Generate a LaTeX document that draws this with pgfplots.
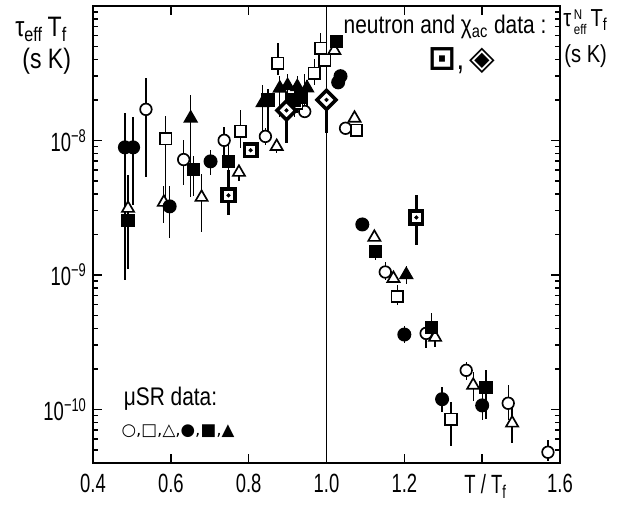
\documentclass[border=0pt]{standalone}
\usepackage{fontspec}
\setmainfont{Liberation Sans}[FakeStretch=0.82]
\newfontfamily\tickfont{Liberation Sans}[FakeStretch=0.7]
\newfontfamily\symfont{DejaVu Sans}
\newfontfamily\symbfont{DejaVu Sans Bold}
\usepackage{pgfplots}
\pgfplotsset{compat=1.18}
\usepackage{pgfplotstable}

% x, y (s K), error bar ends lo/hi
\pgfplotstableread{
x y lo hi
0.536 1.70e-8 5.31e-9 2.89e-8
0.633 7.2e-9 4.63e-9 1.0e-8
0.737 1.0e-8 7.1e-9 1.25e-8
0.843 1.07e-8 9.2e-9 1.23e-8
0.944 1.64e-8 1.5e-8 3.1e-8
1.049 1.23e-8 1.23e-8 1.23e-8
1.151 1.05e-9 9.1e-10 1.24e-9
1.256 3.67e-10 2.84e-10 3.67e-10
1.359 1.95e-10 1.64e-10 2.24e-10
1.467 1.11e-10 8.3e-11 1.51e-10
1.569 4.8e-11 4.1e-11 5.9e-11
}\tabOC
\pgfplotstableread{
x y lo hi
0.587 1.03e-8 3.77e-9 1.53e-8
0.779 1.17e-8 8.7e-9 1.67e-8
0.875 3.74e-8 3.04e-8 5.26e-8
0.923 1.88e-8 1.6e-8 1.88e-8
0.969 3.15e-8 2.6e-8 4.0e-8
0.985 4.83e-8 4.29e-8 6.25e-8
0.995 3.93e-8 3.93e-8 3.93e-8
1.077 1.19e-8 1.19e-8 1.19e-8
1.182 6.9e-10 6.0e-10 8.4e-10
1.320 8.43e-11 5.3e-11 1.13e-10
}\tabOS
\pgfplotstableread{
x y lo hi
0.490 3.12e-9 1.75e-9 5.5e-9
0.582 3.46e-9 2.41e-9 4.6e-9
0.679 3.77e-9 2.1e-9 5.6e-9
0.775 5.78e-9 5.0e-9 5.78e-9
0.872 9.0e-9 8.0e-9 9.0e-9
1.020 4.66e-8 4.66e-8 4.66e-8
1.072 1.46e-8 1.46e-8 1.46e-8
1.123 1.9e-9 1.9e-9 1.9e-9
1.172 9.4e-10 9.4e-10 9.4e-10
1.279 3.43e-10 2.9e-10 3.43e-10
1.377 1.51e-10 1.15e-10 1.88e-10
1.477 7.9e-11 5.6e-11 1.07e-10
}\tabOT
\pgfplotstableread{
x y lo hi
0.482 8.87e-9 9.1e-10 1.59e-8
0.503 8.87e-9 3.28e-9 1.48e-8
0.597 3.23e-9 1.87e-9 4.6e-9
0.702 6.98e-9 5.5e-9 8.43e-9
1.030 2.7e-8 2.7e-8 2.7e-8
1.036 3.0e-8 3.0e-8 3.0e-8
1.092 2.37e-9 2.37e-9 2.37e-9
1.200 3.6e-10 3.1e-10 4.2e-10
1.297 1.19e-10 9.5e-11 1.46e-10
1.400 1.07e-10 8.3e-11 1.3e-10
}\tabFC
\pgfplotstableread{
x y lo hi
0.490 2.54e-9 1.1e-9 3.0e-9
0.659 6.08e-9 3.83e-9 7.7e-9
0.748 6.98e-9 4.6e-9 9.2e-9
0.850 2.0e-8 1.0e-8 2.4e-8
0.918 2.0e-8 1.5e-8 2.4e-8
0.936 2.1e-8 1.6e-8 2.5e-8
1.025 5.4e-8 5.4e-8 5.4e-8
1.126 1.5e-9 1.3e-9 1.5e-9
1.269 4.07e-10 3.3e-10 5.2e-10
1.410 1.46e-10 8.5e-11 1.95e-10
}\tabFS
\pgfplotstableread{
x y lo hi
0.651 1.46e-8 3.77e-9 2.16e-8
0.836 1.9e-8 1.0e-8 2.6e-8
0.880 2.44e-8 1.5e-8 3.0e-8
0.900 2.55e-8 1.8e-8 3.1e-8
0.925 2.5e-8 1.6e-8 3.0e-8
0.950 2.45e-8 1.6e-8 2.8e-8
1.205 1.0e-9 8.5e-10 1.16e-9
}\tabFT
% neutron and chi_ac
\pgfplotstableread{
x y lo hi
0.748 3.9e-9 2.77e-9 5.98e-9
0.805 8.43e-9 8.43e-9 8.43e-9
1.231 2.67e-9 1.66e-9 3.9e-9
}\tabNS
\pgfplotstableread{
x y lo hi
0.897 1.67e-8 9.5e-9 2.27e-8
1.000 2.0e-8 1.13e-8 2.0e-8
}\tabND

\pgfplotsset{
  musr/.style={only marks, black, line width=0.95pt, mark size=3.3pt,
    error bars/y dir=both, error bars/y explicit, error bars/error mark=none,
    error bars/error bar style={line width=0.75pt, black}},
  neut/.style={only marks, black, line width=2pt, mark size=3.6pt,
    mark options={fill=white},
    error bars/y dir=both, error bars/y explicit, error bars/error mark=none,
    error bars/error bar style={line width=2pt, black}},
  table/errtab/.style={x=x, y=y,
    y error plus expr=\thisrow{hi}-\thisrow{y},
    y error minus expr=\thisrow{y}-\thisrow{lo}},
}

\begin{document}
\begin{tikzpicture}
\begin{axis}[
  scale only axis, width=9.34cm, height=9.14cm,
  ymode=log, xmin=0.4, xmax=1.6, ymin=4e-11, ymax=1e-7,
  xtick={0.4,0.6,0.8,1.0,1.2,1.4,1.6},
  xticklabels={0.4,0.6,0.8,1.0,1.2,\hspace*{4pt}T / T\textsubscript{f},1.6},
  ytick={1e-10,1e-9,1e-8,1e-7},
  yticklabels={10\textsuperscript{−10},10\textsuperscript{−9},10\textsuperscript{−8},{}},
  minor ytick={4e-11,5e-11,6e-11,7e-11,8e-11,9e-11,2e-10,3e-10,4e-10,5e-10,6e-10,7e-10,8e-10,9e-10,2e-9,3e-9,4e-9,5e-9,6e-9,7e-9,8e-9,9e-9,2e-8,3e-8,4e-8,5e-8,6e-8,7e-8,8e-8,9e-8},
  tick align=inside, major tick length=0.18cm, minor tick length=0.1cm,
  axis line style={line width=1.2pt},
  every tick/.style={black, line width=0.9pt},
  tick label style={font=\tickfont\fontsize{15}{17}\selectfont},
  xticklabel style={yshift=-3pt},
  clip=false,
]
\addplot[black, line width=0.6pt] coordinates {(1,4e-11) (1,1e-7)};

\addplot[musr, mark=*, mark options={fill=white}] table[errtab] {\tabOC};
\addplot[musr, mark=square*, mark options={fill=white}] table[errtab] {\tabOS};
\addplot[musr, mark=triangle*, mark size=4pt, mark options={fill=white}] table[errtab] {\tabOT};
\addplot[musr, mark=*, mark size=3.5pt, mark options={fill=black}] table[errtab] {\tabFC};
\addplot[musr, mark=square*, mark options={fill=black}] table[errtab] {\tabFS};
\addplot[musr, mark=triangle*, mark size=4pt, mark options={fill=black}] table[errtab] {\tabFT};

\addplot[neut, mark=square*] table[errtab] {\tabNS};
\addplot[only marks, black, mark=*, mark size=1pt] table[x=x, y=y] {\tabNS};
\addplot[neut, mark=square*, mark size=3.8pt, mark options={rotate=45, fill=white}] table[errtab] {\tabND};
\addplot[only marks, black, mark=*, mark size=1pt] table[x=x, y=y] {\tabND};
\end{axis}

% left and right axis titles
\node[anchor=base west, font=\fontsize{16}{18}\selectfont, inner sep=0pt] at (-1.56, 8.52)
  {τ\textsubscript{eff}\,T\textsubscript{f}};
\node[anchor=base west, font=\fontsize{16}{18}\selectfont, inner sep=0pt] at (-1.42, 7.88)
  {(s K)};
\node[anchor=base west, font=\fontsize{14}{16}\selectfont, inner sep=0pt] at (9.4, 8.72)
  {τ\hspace{1.5pt}\raisebox{-0.6ex}{\fontsize{8}{8}\selectfont\lineskip=1.5pt\shortstack[l]{N\\eff}}\,T\textsubscript{f}};
\node[anchor=base west, font=\fontsize{14}{16}\selectfont, inner sep=0pt] at (9.42, 8.0)
  {(s K)};

% legend texts
\node[anchor=base, font=\fontsize{14.5}{16}\selectfont, inner sep=0pt] at (7.04, 8.58)
  {neutron and χ\textsubscript{ac} data :};
\node[font=\fontsize{19}{21}\selectfont] at (7.38, 8.04)
  {{\symbfont ⊡},\,{\symfont ◈}};
\node[font=\fontsize{14.5}{16}\selectfont] at (1.55, 1.28) {μSR data:};
\node[font=\fontsize{9.5}{12}\selectfont] at (1.7, 0.64)
  {\symfont ○,□,△,●,■,▲};

\path (-1.86,-0.86) rectangle (10.76,9.24);
\end{tikzpicture}
\end{document}
